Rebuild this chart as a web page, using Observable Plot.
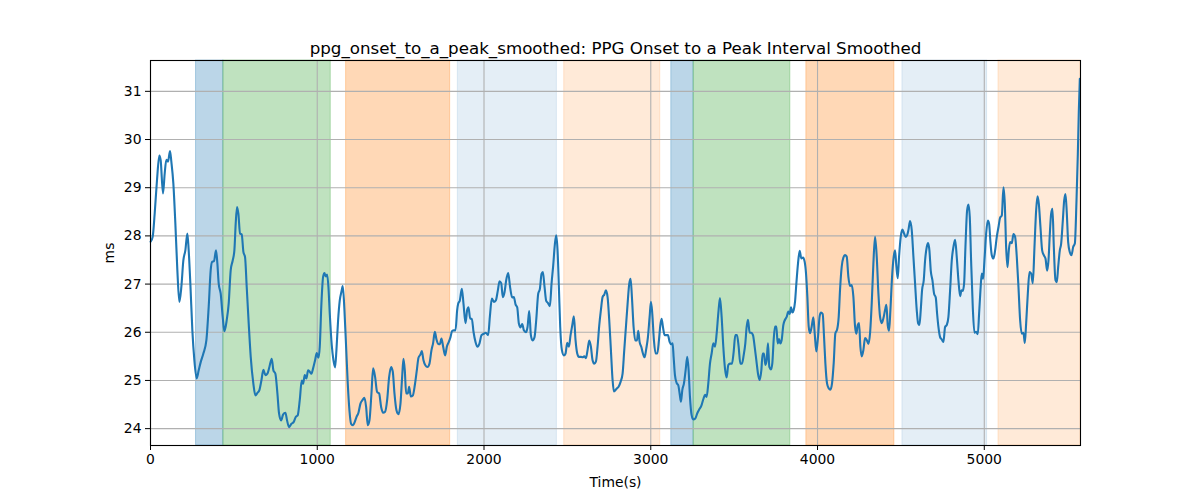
<!DOCTYPE html>
<html>
<head>
<meta charset="utf-8">
<script src="https://cdn.jsdelivr.net/npm/d3@7"></script>
<script src="https://cdn.jsdelivr.net/npm/@observablehq/plot@0.6"></script>
<style>
  html, body { margin: 0; padding: 0; background: white; }
  #chart { width: 1200px; height: 500px; }
</style>
</head>
<body>
<div id="chart"></div>
<script>
const title = "ppg_onset_to_a_peak_smoothed: PPG Onset to a Peak Interval Smoothed";
const xLabel = "Time(s)";
const yLabel = "ms";
const xTicks = [0, 1000, 2000, 3000, 4000, 5000];
const yTicks = [24, 25, 26, 27, 28, 29, 30, 31];

// shaded intervals
const spanStart = [273, 437, 1173, 1843, 2481, 3123, 3257, 3933, 4509, 5085];
const spanEnd   = [437, 1081, 1797, 2437, 3057, 3257, 3837, 4461, 5017, 5577];
const spanKind  = ["k1", "k2", "k3", "k4", "k5", "k1", "k2", "k3", "k4", "k5"];

// smoothed signal
const times = [
1,13,25,39,53,61,75,85,95,105,117,125,137,149,161,173,185,197,209,221,229,239,251,263,277,289,301,317,335,349,361,369,381,393,401,409,421,433,443,457,469,481,493,503,511,519,527,537,547,557,567,577,589,601,617,629,641,653,665,677,689,701,713,727,737,749,761,771,783,795,809,819,831,845,859,871,883,895,907,
915,925,935,945,955,965,975,987,997,1007,1015,1025,1035,1043,1051,1059,1067,1075,1087,1097,1107,1115,1125,1135,1145,1153,1163,1173,1183,1193,1203,1215,1225,1235,1247,1259,1271,1283,1293,1303,1313,1325,1335,1347,1359,1371,1383,1395,1407,1419,1431,1443,1453,1463,1475,1487,1499,1509,1517,1525,1533,1543,1551,1561,1573,1585,1597,1607,1619,1627,1637,1649,1661,1673,1685,1695,1705,1715,1725,1735,1745,1755,1767,1777,1789,1799,1809,1819,1829,1839,
1845,1855,1867,1877,1889,1899,1907,1917,1927,1937,1949,1961,1973,1985,1999,2011,2025,2035,2047,2059,2071,2083,2093,2103,2113,2123,2133,2145,2157,2169,2179,2189,2199,2209,2219,2229,2239,2251,2261,2271,2281,2291,2303,2313,2325,2335,2345,2353,2363,2373,2383,2395,2405,2415,2425,2433,2441,2449,2457,2467,2479,2489,2499,2509,2519,2529,2539,2549,2559,2569,2581,2591,2601,2611,2621,2631,2641,2651,2661,2671,2681,2691,2701,2711,2721,2731,2741,2751,2761,2771,2779,
2795,2807,2819,2831,2841,2851,2861,2871,2879,2887,2897,2907,2917,2925,2933,2943,2953,2963,2973,2983,2993,3001,3009,3019,3029,3039,3049,3057,3065,3073,3083,3093,3103,3113,3123,3131,3137,3145,3155,3165,3173,3181,3189,3199,3209,3219,3227,3235,3245,3255,3267,3279,3291,3303,3315,3325,3335,3345,3355,3365,3375,3385,3395,3405,3415,3425,3435,3445,3455,3465,3475,3487,3497,3507,3517,3527,3537,3547,3557,3567,3575,3583,3593,3603,3613,3623,3633,3643,3653,3663,3671,3679,3687,3695,3703,3711,
3721,3729,3737,3745,3753,3761,3769,3777,3785,3795,3805,3815,3825,3833,3841,3849,3857,3865,3873,3883,3893,3903,3913,3923,3931,3939,3947,3955,3965,3975,3983,3993,4003,4013,4021,4031,4039,4047,4057,4067,4077,4087,4097,4107,4117,4127,4135,4145,4155,4165,4175,4185,4195,4205,4215,4225,4233,4241,4249,4257,4265,4275,4285,4295,4305,4315,4325,4335,4345,4355,4365,4375,4385,4395,4405,4413,4421,4429,4437,4447,4457,4465,4473,4481,4489,4499,4509,4519,4529,4537,4545,4555,4565,4575,4585,4595,4603,4611,4619,4627,4637,
4645,4655,4663,4671,4679,4689,4699,4709,4717,4725,4735,4745,4755,4765,4775,4785,4795,4805,4815,4825,4835,4845,4855,4863,4871,4879,4887,4897,4905,4913,4921,4931,4941,4951,4961,4969,4977,4985,4993,5001,5011,5021,5029,5037,5045,5055,5065,5075,5085,5095,5105,5115,5123,5131,5139,5147,5155,5165,5175,5185,5195,5205,5215,5225,5235,5243,5251,5261,5271,5281,5291,5301,5311,5319,5327,5337,5347,5357,5367,5377,5385,5393,5401,5409,5417,5427,5435,5443,5453,5461,5471,5479,5487,5495,5503,5513,5523,5533,5543,5553,5561,5567,5573
];
const values = [
27.88,27.98,28.46,29.16,29.67,29.57,28.88,29.29,29.58,29.54,29.76,29.54,29.09,28.26,27.29,26.63,26.94,27.49,27.70,28.05,27.70,27.01,26.04,25.42,25.04,25.21,25.38,25.56,25.83,26.53,27.29,27.46,27.48,27.70,27.43,27.01,26.80,26.32,26.02,26.25,26.60,27.29,27.49,27.70,28.26,28.60,28.46,28.05,28.03,27.67,27.56,26.94,26.18,25.49,24.93,24.69,24.74,24.80,25.00,25.22,25.11,25.14,25.28,25.45,25.21,25.14,24.73,24.31,24.17,24.29,24.33,24.17,24.03,24.10,24.14,24.24,24.28,24.59,25.00,
24.93,25.11,25.04,25.21,25.18,25.14,25.25,25.42,25.57,25.47,25.70,26.60,27.15,27.23,27.16,27.20,26.94,26.39,25.73,25.42,25.27,25.63,26.25,26.66,26.84,26.96,26.46,25.70,24.93,24.38,24.10,24.07,24.14,24.24,24.33,24.52,24.59,24.64,24.45,24.07,24.17,24.73,25.25,25.07,24.76,24.73,24.45,24.33,24.35,24.59,25.07,25.28,25.18,24.73,24.38,24.30,24.52,25.07,25.45,25.21,24.73,24.73,24.87,24.67,24.69,24.90,25.21,25.47,25.54,25.61,25.42,25.31,25.28,25.35,25.63,25.78,26.01,25.85,25.76,25.75,25.87,25.70,25.52,25.70,25.80,25.90,26.03,26.04,26.04,26.46,
26.59,26.66,26.90,26.59,26.19,26.46,26.52,26.28,26.28,26.01,25.80,25.70,25.77,25.94,25.97,25.99,25.94,26.32,26.70,26.63,26.66,26.87,27.06,27.02,26.73,26.83,27.08,27.23,26.92,26.72,26.73,26.58,26.52,26.18,26.10,26.17,26.04,26.00,26.11,26.44,25.94,25.83,25.90,26.25,26.80,26.90,27.21,27.25,26.94,26.65,26.61,26.54,27.01,27.39,27.83,28.01,27.70,26.94,26.11,25.63,25.52,25.56,25.78,25.70,25.94,26.14,26.33,25.83,25.56,25.49,25.49,25.48,25.50,25.46,25.63,25.83,25.70,25.42,25.35,25.39,25.70,26.14,26.46,26.73,26.78,26.87,26.73,26.25,25.63,25.01,24.77,
24.83,24.87,24.97,25.14,25.63,26.11,26.59,27.01,27.11,26.73,26.11,25.83,25.83,26.03,25.80,25.70,25.56,25.48,25.66,25.90,26.32,26.63,26.39,25.83,25.56,25.56,25.83,26.14,26.28,26.11,25.94,25.94,25.94,25.80,25.75,25.77,25.49,25.11,24.95,24.90,24.73,24.56,24.80,24.94,25.21,25.49,25.21,24.66,24.28,24.19,24.21,24.32,24.40,24.47,24.61,24.70,24.66,24.94,25.35,25.56,25.77,25.70,25.97,26.39,26.71,26.32,25.70,25.25,25.06,25.32,25.35,25.35,25.59,25.94,25.94,25.70,25.35,25.35,25.52,25.77,26.11,26.26,25.99,25.99,25.94,25.70,25.42,25.14,25.01,25.21,25.56,25.56,25.32,25.42,25.77,25.28,
25.23,25.36,25.84,26.12,26.12,25.77,25.86,25.77,25.84,26.15,26.26,26.32,26.43,26.38,26.52,26.41,26.46,26.63,27.01,27.43,27.69,27.53,27.55,27.46,27.22,26.74,26.12,25.98,26.12,26.31,25.98,25.60,25.91,26.34,26.41,26.38,25.91,25.36,24.94,24.84,24.81,24.94,25.36,25.98,26.05,26.32,26.88,27.36,27.55,27.60,27.57,27.15,26.96,26.98,26.74,26.12,25.97,26.15,26.19,25.70,25.50,25.63,25.88,25.84,25.76,25.98,26.60,27.43,27.98,27.57,26.81,26.32,26.19,26.29,26.46,26.57,26.15,26.03,26.46,27.15,27.57,27.70,27.36,27.12,27.57,27.98,28.13,28.05,27.98,28.01,28.12,28.31,28.12,27.57,27.01,26.46,26.19,26.15,26.46,26.88,27.08,
27.49,27.77,27.85,27.70,27.28,27.08,26.80,26.72,26.39,26.11,25.90,25.85,25.80,26.11,26.15,26.32,26.87,27.49,27.77,27.92,27.56,27.08,26.75,26.87,26.86,27.01,27.77,28.53,28.65,28.39,27.49,26.52,25.99,26.01,25.96,26.39,26.87,27.22,27.11,27.49,28.04,28.32,28.25,27.87,27.60,27.53,27.70,27.98,28.18,28.38,28.42,29.01,28.67,27.77,27.35,27.70,27.87,27.85,28.04,27.98,27.56,26.94,26.25,25.97,25.99,25.78,26.18,26.80,27.25,27.22,27.02,27.77,28.53,28.82,28.67,28.18,27.70,27.60,27.53,27.28,27.49,28.04,28.46,28.56,27.77,27.08,27.04,27.35,27.70,27.84,28.32,28.73,28.87,28.46,27.87,27.66,27.60,27.77,27.84,28.73,29.70,30.60,31.26
];

const spans = spanStart.map((s, i) => ({start: s, end: spanEnd[i], kind: spanKind[i]}));
const series = times.map((t, i) => ({t, v: values[i]}));

// styles by interval kind
const kindFill = {k1: "#1f77b4", k2: "#2ca02c", k3: "#ff7f0e", k4: "#1f77b4", k5: "#ff7f0e"};
const kindAlpha = {k1: 0.3, k2: 0.3, k3: 0.3, k4: 0.12, k5: 0.16};

const font = "'DejaVu Sans', sans-serif";

const chart = Plot.plot({
  width: 1200,
  height: 500,
  marginTop: 60,
  marginBottom: 55,
  marginLeft: 150,
  marginRight: 120,
  style: {fontFamily: font, fontSize: "13.9px", background: "white", color: "black"},
  x: {domain: [0, 5577]},
  y: {domain: [23.65, 31.64]},
  color: {type: "identity"},
  marks: [
    Plot.rect(spans, {
      x1: "start", x2: "end",
      fill: d => kindFill[d.kind], fillOpacity: d => kindAlpha[d.kind],
      stroke: d => kindFill[d.kind], strokeOpacity: d => kindAlpha[d.kind], strokeWidth: 1
    }),
    Plot.gridX(xTicks, {stroke: "#b0b0b0", strokeOpacity: 1, strokeWidth: 1.1}),
    Plot.gridY(yTicks, {stroke: "#b0b0b0", strokeOpacity: 1, strokeWidth: 1.1}),
    Plot.line(series, {x: "t", y: "v", stroke: "#1f77b4", strokeWidth: 2.1, curve: "monotone-x"}),
    Plot.frame({stroke: "black", strokeWidth: 1.1}),
    Plot.axisX(xTicks, {
      tickSize: 5, tickPadding: 4, tickFormat: d => String(d),
      label: xLabel, labelAnchor: "center", labelArrow: "none", labelOffset: 41,
      fontSize: 13.9
    }),
    Plot.axisY(yTicks, {
      tickSize: 5, tickPadding: 4, tickFormat: d => String(d),
      label: yLabel, labelAnchor: "center", labelArrow: "none", labelOffset: 46,
      fontSize: 13.9
    }),
    Plot.text([title], {
      text: d => d, frameAnchor: "top", lineAnchor: "bottom", dy: -7,
      fontSize: 16.7, fill: "black"
    })
  ]
});

document.getElementById("chart").appendChild(chart);
</script>
</body>
</html>
